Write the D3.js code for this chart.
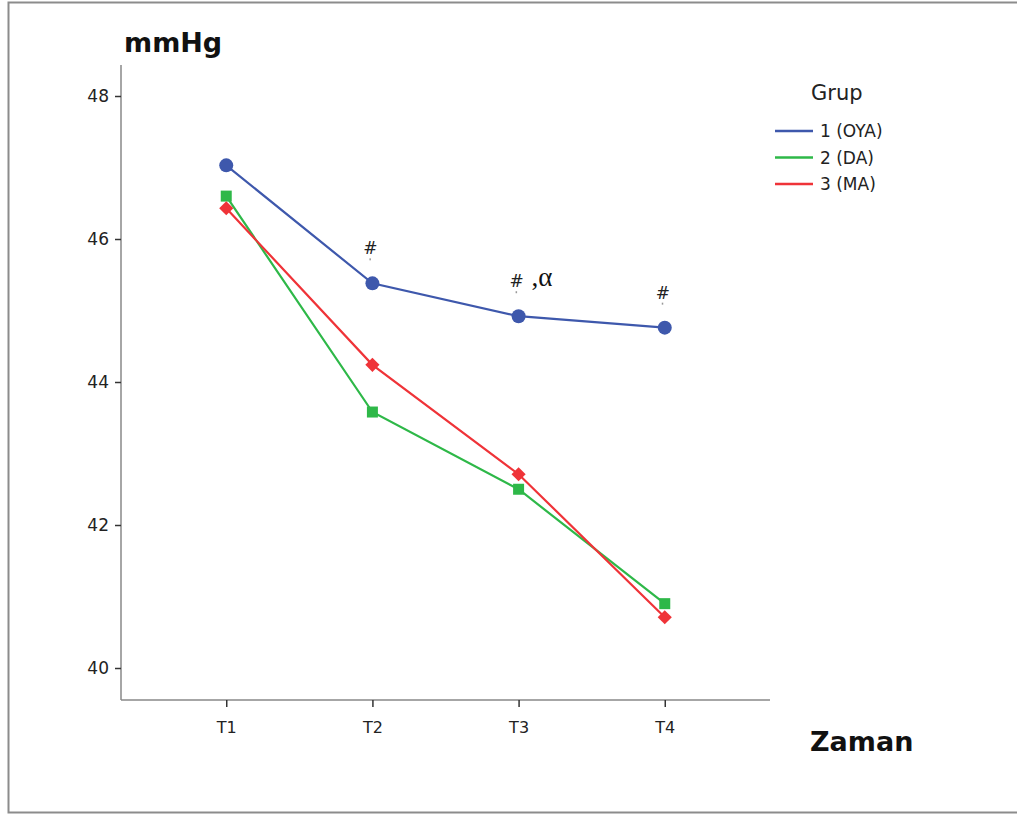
<!DOCTYPE html>
<html><head><meta charset="utf-8">
<script src="https://cdn.jsdelivr.net/npm/d3@7/dist/d3.min.js"></script>
<style>body{margin:0;background:#fff;} svg{display:block;}</style>
</head><body>
<svg id="c" width="1017" height="814"></svg>
<script>
const categories = ["T1","T2","T3","T4"];
const groupNames = ["1 (OYA)","2 (DA)","3 (MA)"];
const oya = [47.03, 45.38, 44.92, 44.76];
const da  = [46.60, 43.58, 42.50, 40.90];
const ma  = [46.43, 44.24, 42.71, 40.71];
const yTicks = [40, 42, 44, 46, 48];
const colors = ["#3E58AC", "#2EB848", "#EF3338"];
const annotations = [
  {cat:"T2", val:45.38, text:"#", extra:""},
  {cat:"T3", val:44.92, text:"#", extra:",α"},
  {cat:"T4", val:44.76, text:"#", extra:""}
];
const series = [oya, da, ma];

const svg = d3.select("#c");
const font = "'DejaVu Sans', Verdana, sans-serif";

// outer frame
svg.append("path").attr("d","M1017,2.5 H8.5 V812.5 H1017")
  .attr("fill","none").attr("stroke","#8c8c8c").attr("stroke-width",2);

const x = d3.scalePoint().domain(categories).range([121, 770]).padding(0.72);
const y = d3.scaleLinear().domain([40, 48]).range([668, 96]);

// axes
const yAxis = svg.append("g").attr("transform","translate(121,0)")
  .call(d3.axisLeft(y).tickValues(yTicks).tickSize(6).tickPadding(6).tickFormat(d3.format("d")));
yAxis.select(".domain").attr("d","M0,65V700").attr("stroke","#888").attr("stroke-width",1.5);
yAxis.selectAll(".tick line").attr("stroke","#333").attr("stroke-width",1.5);
yAxis.selectAll(".tick text").style("font-family",font).style("font-size","17px").attr("fill","#222");

const xAxis = svg.append("g").attr("transform","translate(0,700)")
  .call(d3.axisBottom(x).tickSize(7).tickPadding(15));
xAxis.select(".domain").attr("d","M121,0H770").attr("stroke","#888").attr("stroke-width",1.5);
xAxis.selectAll(".tick line").attr("stroke","#333").attr("stroke-width",1.5);
xAxis.selectAll(".tick text").style("font-family",font).style("font-size","16px").attr("fill","#222");

// lines
const line = d3.line().x((d,i)=>x(categories[i])).y(d=>y(d));
series.forEach((s,k)=>{
  svg.append("path").datum(s).attr("d",line).attr("fill","none")
    .attr("stroke",colors[k]).attr("stroke-width",2.2);
});
// markers
svg.append("g").selectAll("circle").data(oya).join("circle")
  .attr("cx",(d,i)=>x(categories[i])).attr("cy",d=>y(d)).attr("r",7).attr("fill",colors[0]);
svg.append("g").selectAll("path").data(da).join("path")
  .attr("transform",(d,i)=>`translate(${x(categories[i])},${y(d)})`)
  .attr("d", d3.symbol().type(d3.symbolSquare).size(121)).attr("fill",colors[1]);
svg.append("g").selectAll("path").data(ma).join("path")
  .attr("transform",(d,i)=>`translate(${x(categories[i])},${y(d)}) rotate(45)`)
  .attr("d", d3.symbol().type(d3.symbolSquare).size(100)).attr("fill",colors[2]);

// annotations
annotations.forEach(a=>{
  const px = x(a.cat), py = y(a.val);
  svg.append("text").attr("x",px-2).attr("y",py-29).attr("text-anchor","middle")
    .style("font-family",font).style("font-size","17px")
    .attr("fill","#222").text(a.text);
  svg.append("rect").attr("x",px-3).attr("y",py-25).attr("width",1.5).attr("height",2).attr("fill","#999");
  if (a.extra) {
    svg.append("text").attr("x",px+13).attr("y",py-30)
      .style("font-family","'Liberation Serif', 'Times New Roman', serif").style("font-size","27px")
      .attr("fill","#111").text(a.extra);
  }
});

// titles
svg.append("text").attr("x",124).attr("y",52).style("font-family",font).style("font-size","27px")
  .attr("font-weight","bold").attr("fill","#111").text("mmHg");
svg.append("text").attr("x",810).attr("y",751).style("font-family",font).style("font-size","27px")
  .attr("font-weight","bold").attr("fill","#111").text("Zaman");

// legend
svg.append("text").attr("x",811).attr("y",100).style("font-family",font).style("font-size","21px")
  .attr("fill","#222").text("Grup");
const leg = svg.append("g").selectAll("g").data(groupNames).join("g")
  .attr("transform",(d,i)=>`translate(775,${131 + i*26.5})`);
leg.append("line").attr("x1",0).attr("x2",38).attr("y1",0).attr("y2",0)
  .attr("stroke",(d,i)=>colors[i]).attr("stroke-width",2.5);
leg.append("text").attr("x",45).attr("y",6).style("font-family",font).style("font-size","17px")
  .attr("fill","#222").text(d=>d);
</script>
</body></html>
